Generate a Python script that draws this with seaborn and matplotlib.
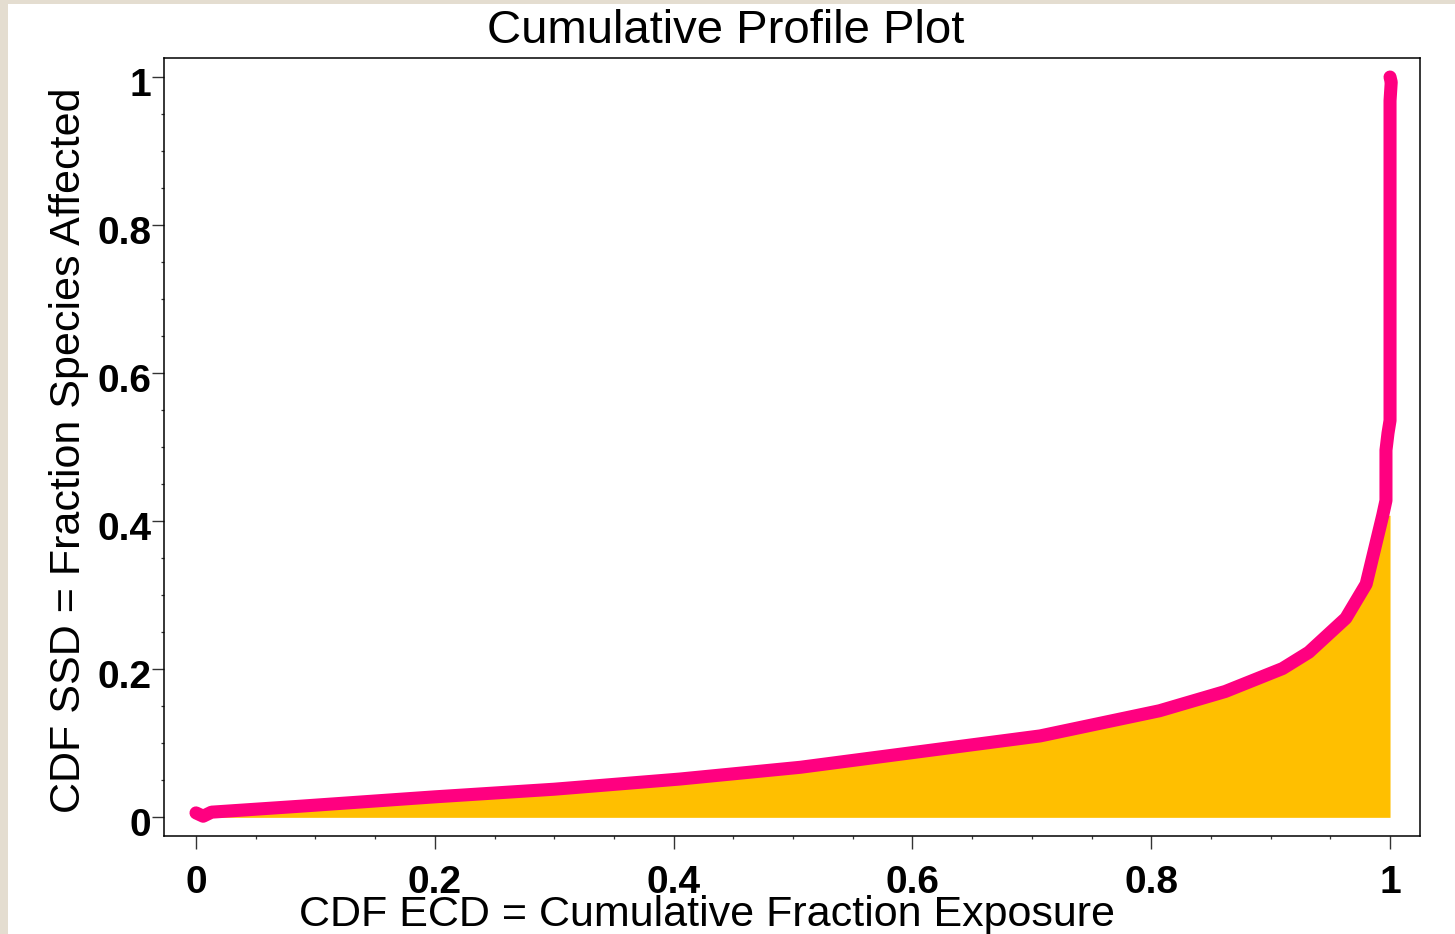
import matplotlib
matplotlib.use("Agg")
import matplotlib.pyplot as plt
import matplotlib.transforms as mtransforms
from matplotlib.patches import Rectangle
from matplotlib.ticker import MultipleLocator, FixedLocator
import seaborn as sns
import pandas as pd

# Cumulative exposure (ECD) vs. cumulative fraction of species affected (SSD)
ecd = [0.0, 0.006, 0.013, 0.087, 0.2, 0.3, 0.405, 0.506, 0.707, 0.807, 0.826,
       0.862, 0.910, 0.932, 0.963, 0.980, 0.9939, 0.9966, 0.9966, 0.9983,
       1.0, 1.0, 1.001, 1.0]
ssd = [0.006, 0.0015, 0.007, 0.015, 0.0277, 0.038, 0.0517, 0.0676, 0.110, 0.144,
       0.153, 0.170, 0.201, 0.223, 0.269, 0.315, 0.408, 0.428, 0.496, 0.519,
       0.536, 0.968, 0.993, 1.0]

# Shaded area under the profile
fill_ecd = [0.0, 0.006, 0.013, 0.087, 0.2, 0.3, 0.405, 0.506, 0.707, 0.807,
            0.826, 0.862, 0.910, 0.932, 0.963, 0.980, 0.9939, 1.0]
fill_ssd = [0.006, 0.0015, 0.007, 0.015, 0.0277, 0.038, 0.0517, 0.0676, 0.110,
            0.144, 0.153, 0.170, 0.201, 0.223, 0.269, 0.315, 0.408, 0.408]

x_ticks = [0, 0.2, 0.4, 0.6, 0.8, 1.0]
x_tick_labels = ["0", "0.2", "0.4", "0.6", "0.8", "1"]
y_ticks = [0, 0.2, 0.4, 0.6, 0.8, 1.0]
y_tick_labels = ["0", "0.2", "0.4", "0.6", "0.8", "1"]

title = "Cumulative Profile Plot"
x_label = "CDF ECD = Cumulative Fraction Exposure"
y_label = "CDF SSD = Fraction Species Affected"

LINE_COLOR = "#FF0080"
FILL_COLOR = "#FFBF00"
PAGE_COLOR = "#E4DDD0"

sns.set_style("white")
plt.rcParams["font.family"] = ["Liberation Sans", "DejaVu Sans"]
plt.rcParams["text.color"] = "black"

W, H = 1455, 934
fig = plt.figure(figsize=(W / 100, H / 100), dpi=100)
fig.patch.set_facecolor(PAGE_COLOR)
fig.add_artist(Rectangle((8 / W, 0), 1, 1 - 4 / H, transform=fig.transFigure,
                         facecolor="white", edgecolor="none", zorder=-10))

ax = fig.add_axes([164 / W, 1 - 836 / H, (1420 - 164) / W, (836 - 58) / H])
ax.set_facecolor("white")

profile = pd.DataFrame({"ecd": ecd, "ssd": ssd})
ax.fill_between(fill_ecd, 0, fill_ssd, color=FILL_COLOR, linewidth=0, zorder=1)
sns.lineplot(data=profile, x="ecd", y="ssd", sort=False, estimator=None,
             color=LINE_COLOR, linewidth=9.4, solid_capstyle="round",
             solid_joinstyle="round", ax=ax, zorder=2)

ax.set_xlim(-0.0268, 1.0251)
ax.set_ylim(-0.0252, 1.0257)
ax.set_xlabel("")
ax.set_ylabel("")

ax.xaxis.set_major_locator(FixedLocator(x_ticks))
ax.yaxis.set_major_locator(FixedLocator(y_ticks))
ax.set_xticklabels(x_tick_labels)
ax.set_yticklabels(y_tick_labels)
ax.xaxis.set_minor_locator(MultipleLocator(0.05))
ax.yaxis.set_minor_locator(MultipleLocator(0.05))

ax.tick_params(axis="both", which="major", direction="out", length=9,
               width=1.0, color="#333333", labelsize=28, labelcolor="black")
ax.tick_params(axis="x", which="major", pad=12)
ax.tick_params(axis="y", which="major", pad=0)
ax.tick_params(axis="both", which="minor", direction="out", length=2.2,
               width=0.9, color="#333333")
ax.tick_params(bottom=True, left=True, which="both")
for lab in ax.get_xticklabels() + ax.get_yticklabels():
    lab.set_fontweight("bold")

# y tick labels sit slightly below their ticks
shift = mtransforms.ScaledTranslation(0, -5 / 100, fig.dpi_scale_trans)
for lab in ax.get_yticklabels():
    lab.set_transform(lab.get_transform() + shift)

for side in ["top", "bottom", "left", "right"]:
    ax.spines[side].set_visible(True)
    ax.spines[side].set_color("black")
    ax.spines[side].set_linewidth(1.1)

fig.text(726 / W, 1 - 43 / H, title, ha="center", va="baseline",
         fontsize=34, color="black")
fig.text(707 / W, 1 - 926 / H, x_label, ha="center", va="baseline",
         fontsize=31, color="black")
fig.text(80 / W, 1 - 450 / H, y_label, ha="center", va="baseline",
         rotation=90, rotation_mode="anchor", fontsize=31, color="black")

fig.savefig("out.png", dpi=100, facecolor=fig.get_facecolor())
